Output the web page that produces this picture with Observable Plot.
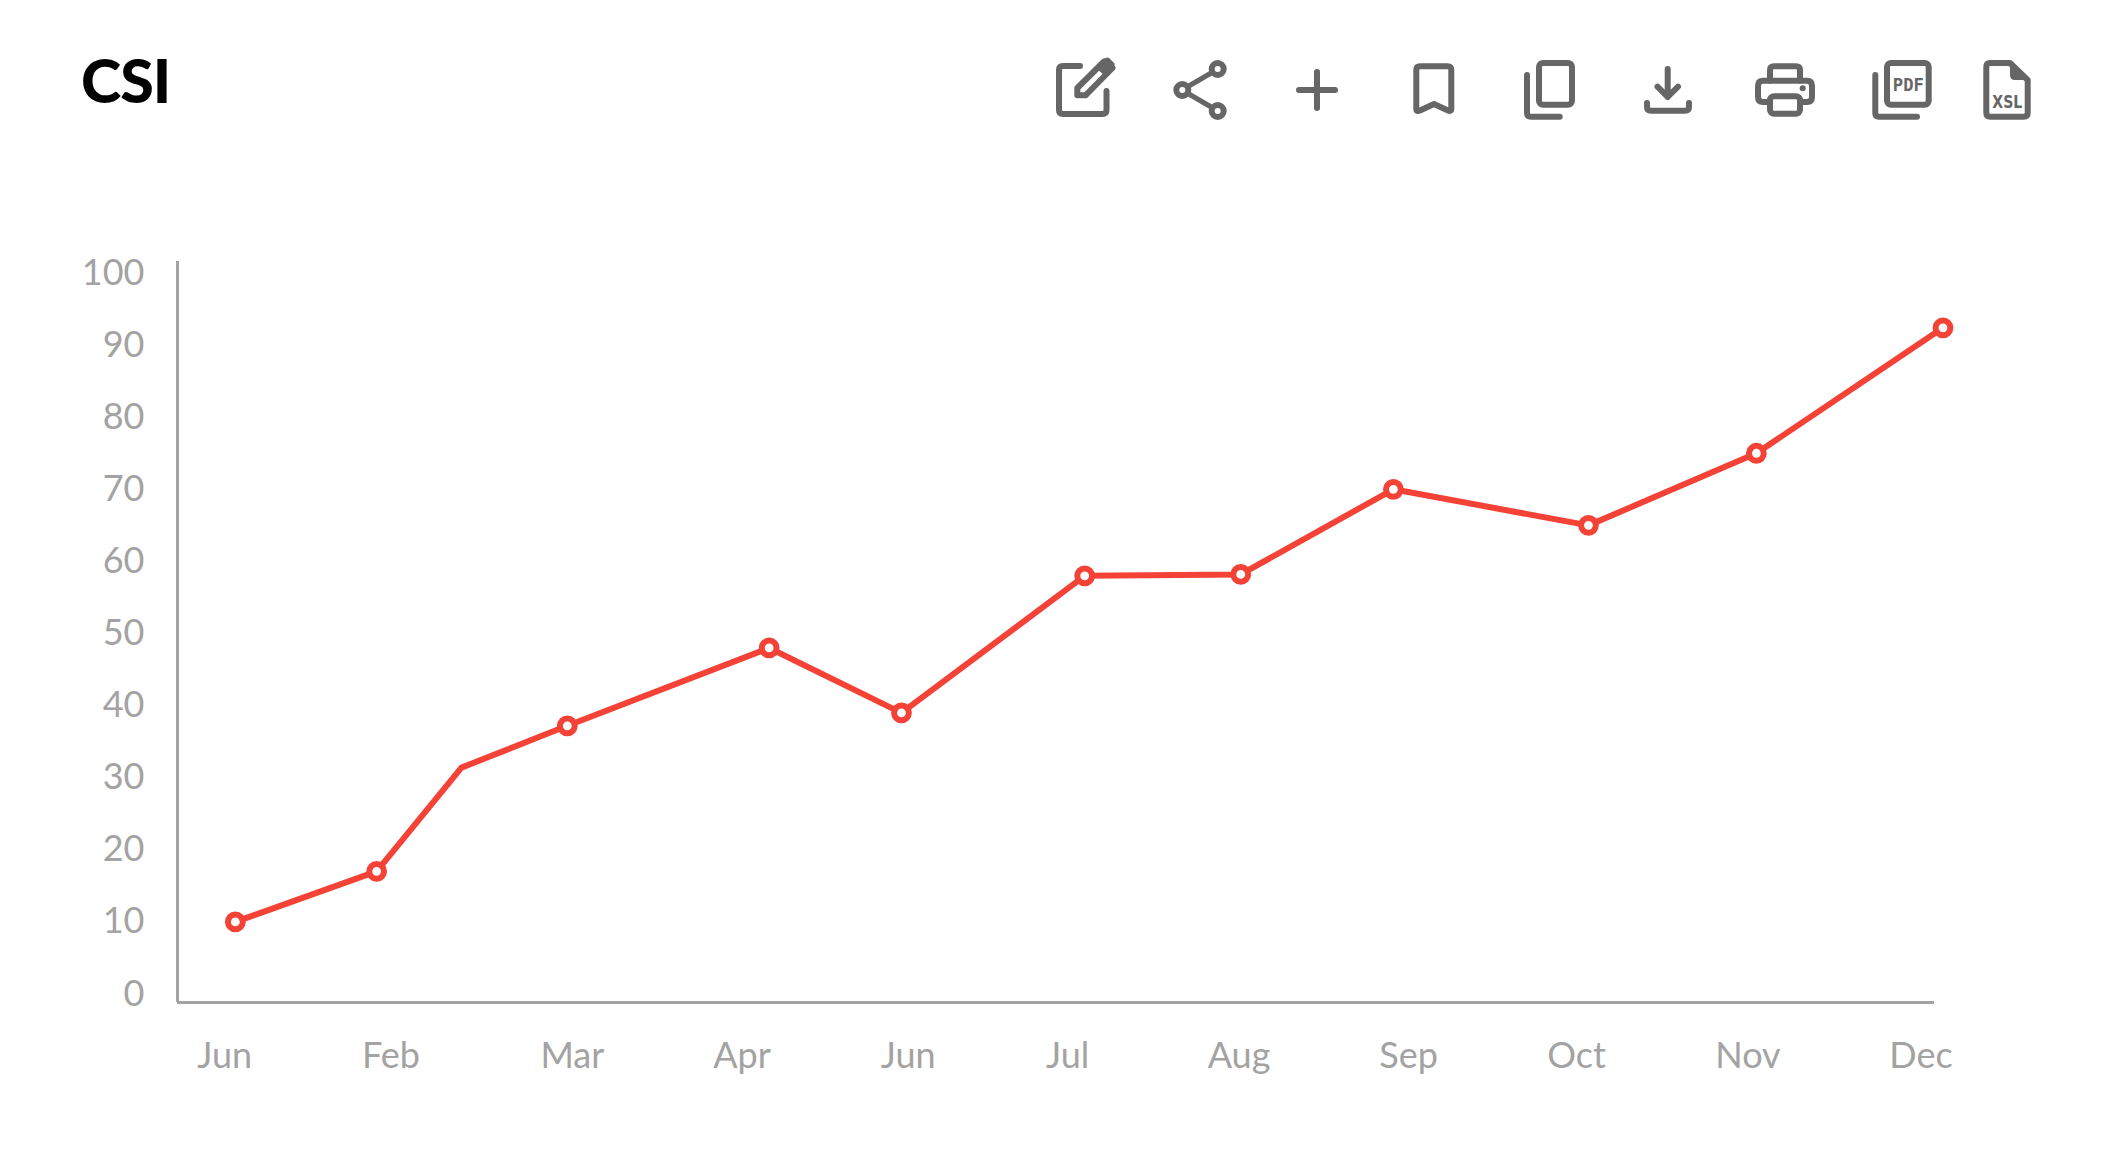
<!DOCTYPE html>
<html>
<head>
<meta charset="utf-8">
<script src="https://cdn.jsdelivr.net/npm/d3@7"></script>
<script src="https://cdn.jsdelivr.net/npm/@observablehq/plot@0.6"></script>
<style>
html,body{margin:0;padding:0;background:#fff;width:2109px;height:1161px;overflow:hidden}
#head{position:relative;width:2109px;height:180px}
#title{position:absolute;left:81px;top:42px;font:900 61px/76px Lato,sans-serif;color:#000;letter-spacing:-1px}
#icons{position:absolute;left:0;top:0}
#icons .s{fill:none;stroke:#666;stroke-width:6;stroke-linecap:round;stroke-linejoin:round}
#icons text{fill:#666;font-weight:700;dominant-baseline:central;text-anchor:middle}
#chart svg{display:block}
</style>
</head>
<body>
<div id="head">
<div id="title">CSI</div>
<svg id="icons" width="2109" height="180" viewBox="0 0 2109 180">
  <!-- edit -->
  <path class="s" d="M1080 66H1063Q1059 66 1059 70V110Q1059 114 1063 114H1102.500Q1106.500 114 1106.500 110V91"/>
  <path class="s" d="M1077.300 95.300V88L1104 61.500L1112.500 68L1085.500 95.300Z"/>
  <path d="M1097 67L1104.500 60L1108 59L1113 64L1113 68L1106 75Z" fill="#666" stroke="#666" stroke-width="3" stroke-linejoin="round"/>
  <!-- share -->
  <g class="s"><circle cx="1217.700" cy="69" r="6"/><circle cx="1182.300" cy="90" r="6"/><circle cx="1217.700" cy="111" r="6"/><path d="M1188 86.500L1212 72.500M1188 93.500L1212 107.500" stroke-width="5"/></g>
  <!-- plus -->
  <path class="s" d="M1299 90H1335M1317 72V108"/>
  <!-- bookmark -->
  <path class="s" d="M1416.300 109V70Q1416.300 66.300 1420 66.300H1447.500Q1451.300 66.300 1451.300 70V109Q1451.300 112 1448 110.500L1434 104L1420 110.500Q1416.300 112 1416.300 109Z"/>
  <!-- copy -->
  <rect class="s" x="1539" y="63" width="33" height="41.700" rx="4"/>
  <path class="s" d="M1527 75V113Q1527 116.700 1531 116.700H1559.700"/>
  <!-- download -->
  <path class="s" d="M1667.700 69V97M1657.500 86.700L1667.700 97L1678 86.700M1647 103V107Q1647 110.700 1651 110.700H1685Q1689 110.700 1689 107V103"/>
  <!-- printer -->
  <g class="s">
    <path d="M1770 80.700V70Q1770 66.300 1774 66.300H1796Q1800 66.300 1800 70V80.700"/>
    <path d="M1770 102H1763Q1758 102 1758 97V86Q1758 80.700 1763 80.700H1807Q1812 80.700 1812 86V97Q1812 102 1807 102H1800"/>
    <rect x="1770" y="96.300" width="30" height="17.400" rx="4"/>
  </g>
  <circle cx="1802.700" cy="88.300" r="3" fill="#666"/>
  <!-- pdf -->
  <rect class="s" x="1887" y="63" width="41.700" height="41.700" rx="4"/>
  <path class="s" d="M1875.300 75V113Q1875.300 116.700 1879 116.700H1917"/>
  <text x="1908.300" y="84.300" font-size="18" font-family="DejaVu Sans Mono,monospace" textLength="31" lengthAdjust="spacingAndGlyphs">PDF</text>
  <!-- xsl -->
  <path class="s" d="M1990 63H2010L2027.700 80V112.700Q2027.700 116.700 2023.700 116.700H1990.300Q1986.300 116.700 1986.300 112.700V67Q1986.300 63 1990 63Z"/>
  <path d="M2011 64L2027 79H2015Q2011 79 2011 75Z" fill="#666" stroke="#666" stroke-width="2" stroke-linejoin="round"/>
  <text x="2007.300" y="102.300" font-size="17" font-family="DejaVu Sans,sans-serif" textLength="30" lengthAdjust="spacingAndGlyphs">XSL</text>
</svg>
</div>
<div id="chart"></div>
<script>
const monthLabels = ["Jun","Feb","Mar","Apr","Jun","Jul","Aug","Sep","Oct","Nov","Dec"];
const monthPositions = [0, 0.98, 2.05, 3.05, 4.03, 4.97, 5.98, 6.98, 7.97, 8.98, 10.0];
const pointX = [0.063, 0.896, 1.396, 2.02, 3.21, 3.99, 5.07, 5.99, 6.89, 8.04, 9.03, 10.13];
const pointY = [10, 17, 31.4, 37.2, 48, 39, 58, 58.2, 70, 65, 75, 92.4];
const markerShown = [true, true, false, true, true, true, true, true, true, true, true, true];
const yTicks = [0,10,20,30,40,50,60,70,80,90,100];

const rows = pointX.map((x,i)=>({x, y:pointY[i], m:markerShown[i]}));
const labelOf = new Map(monthPositions.map((p,i)=>[p,monthLabels[i]]));
const gray = "#a3a3a3", red = "#f44336";

const chart = Plot.plot({
  width: 2109, height: 930,
  marginLeft: 177, marginRight: 175, marginTop: 81, marginBottom: 108,
  style: {fontFamily: "Lato, sans-serif", background: "#fff", color: gray},
  x: {type:"linear", domain:[-0.278, 10.08], label:null},
  y: {type:"linear", domain:[-1.18, 101.6], label:null},
  marks: [
    Plot.axisY({ticks: yTicks, anchor:"left", tickSize:0, tickPadding:33, fontSize:36, label:null, fill:gray, tickFormat:d=>String(d)}),
    Plot.axisX({ticks: monthPositions, anchor:"bottom", tickSize:0, tickPadding:40, fontSize:36, label:null, fill:gray, tickFormat:d=>labelOf.get(d)}),
    Plot.ruleX([-0.278], {stroke:gray, strokeWidth:3}),
    Plot.ruleY([-1.18], {stroke:gray, strokeWidth:3}),
    Plot.line(rows, {x:"x", y:"y", stroke:red, strokeWidth:6, curve:"linear"}),
    Plot.dot(rows.filter(d=>d.m), {x:"x", y:"y", r:7.4, fill:"#fff", stroke:red, strokeWidth:6})
  ]
});
document.getElementById("chart").appendChild(chart);
</script>
</body>
</html>
